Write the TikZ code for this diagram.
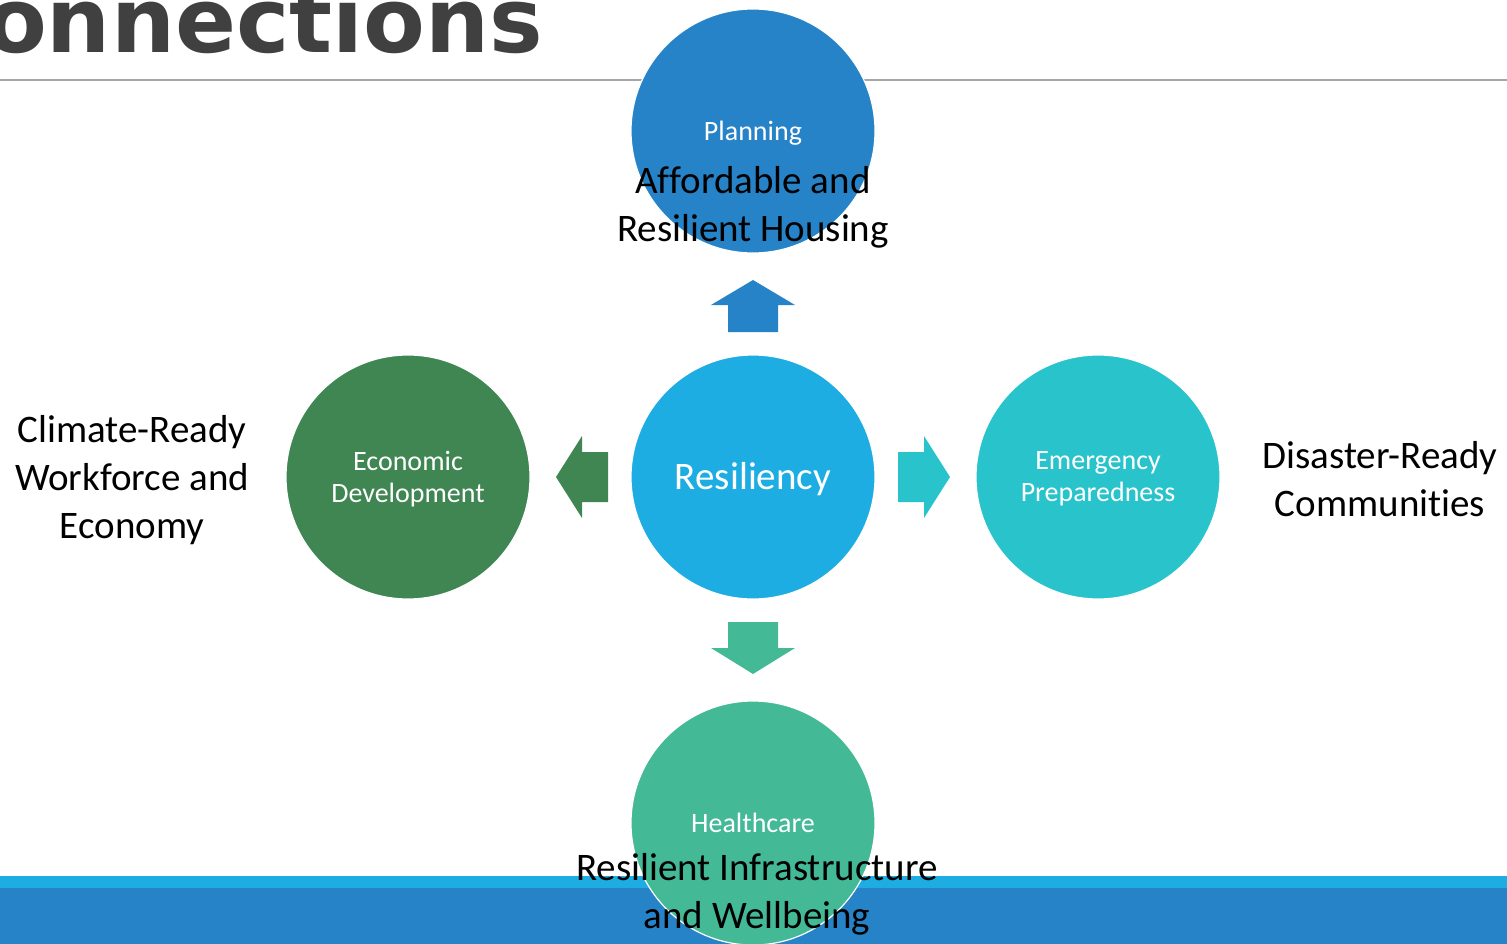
\documentclass[tikz,border=0pt]{standalone}
\usepackage{fontspec}
\setmainfont{Carlito}[Ligatures=NoCommon]
\newfontfamily\titlefont{DejaVu Sans}

\begin{document}
\begin{tikzpicture}[x=1pt,y=-1pt,
  krug/.style={circle, draw=white, line width=1.2pt, minimum size=244pt, inner sep=0pt},
  podpis/.style={text=white, align=center, font=\fontsize{28}{32}\selectfont},
  tekst/.style={text=black, align=center, font=\fontsize{39}{48}\selectfont}]
\useasboundingbox (0,0) rectangle (1507,944);
\clip (0,0) rectangle (1507,944);
%заголовок
\node[anchor=base east, inner sep=0pt, text={rgb,255:red,64; green,64; blue,64},
      font=\titlefont\bfseries\fontsize{90}{100}\selectfont] (zag) at (543,53) {Connections};
\draw[color={rgb,255:red,166; green,166; blue,166}, line width=1.2pt] (0,80) -- (1507,80);
%полосы внизу
\fill[color={rgb,255:red,30; green,173; blue,227}] (0,876) rectangle (1507,888);
\fill[color={rgb,255:red,39; green,131; blue,199}] (0,888) rectangle (1507,944);
%стрелки
\fill[color={rgb,255:red,39; green,131; blue,199}] (728,332) -- (728,305) -- (711,305) -- (753,280) -- (795,305) -- (778,305) -- (778,332) -- cycle;
\fill[color={rgb,255:red,63; green,134; blue,83}] (608,452) -- (582,452) -- (582,436) -- (556,477) -- (582,518) -- (582,502) -- (608,502) -- cycle;
\fill[color={rgb,255:red,41; green,195; blue,204}] (898,452) -- (924,452) -- (924,436) -- (950,477) -- (924,518) -- (924,502) -- (898,502) -- cycle;
\fill[color={rgb,255:red,68; green,185; blue,150}] (728,622) -- (778,622) -- (778,648) -- (795,648) -- (753,674) -- (711,648) -- (728,648) -- cycle;
%круги
\node[krug, fill={rgb,255:red,30; green,173; blue,227}] (res) at (753,477) {};
\node[krug, fill={rgb,255:red,39; green,131; blue,199}] (plan) at (753,131) {};
\node[krug, fill={rgb,255:red,63; green,134; blue,83}] (econ) at (408,477) {};
\node[krug, fill={rgb,255:red,41; green,195; blue,204}] (emer) at (1098,477) {};
\node[krug, fill={rgb,255:red,68; green,185; blue,150}] (health) at (753,823) {};
%надписи в кругах
\node[text=white, font=\fontsize{39}{48}\selectfont] (resT) at (753,479) {Resiliency};
\node[podpis] (planT) at (753,133) {Planning};
\node[podpis] (econT) at (408,479) {Economic\\Development};
\node[podpis] (emerT) at (1098,479) {Emergency\\Preparedness};
\node[podpis] (healthT) at (753,823) {Healthcare};
%надписи снаружи
\node[tekst] (housing) at (753,207) {Affordable and\\Resilient Housing};
\node[tekst] (workforce) at (132,480) {Climate-Ready\\Workforce and\\Economy};
\node[tekst] (disaster) at (1380,479) {Disaster-Ready\\Communities};
\node[tekst] (infra) at (757,894) {Resilient Infrastructure\\and Wellbeing};
\end{tikzpicture}
\end{document}
